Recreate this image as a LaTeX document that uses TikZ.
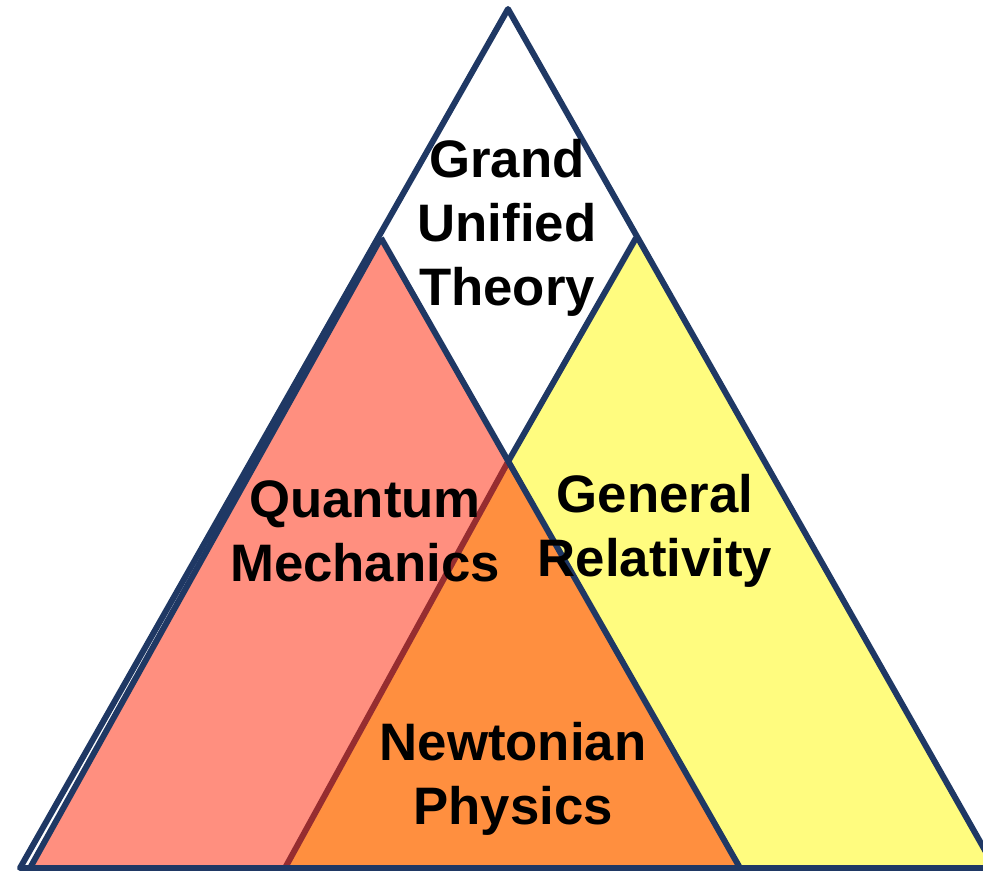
\documentclass[tikz,border=0pt]{standalone}
\usepackage{fontspec}
\setmainfont{Liberation Sans}
\usetikzlibrary{calc}
\definecolor{edgeblue}{RGB}{31,56,100}
\definecolor{qmred}{RGB}{255,143,127}
\definecolor{gryellow}{RGB}{255,252,127}
\definecolor{nworange}{RGB}{255,143,63}
\definecolor{seamred}{RGB}{150,45,48}
\tikzset{
  rim/.style  ={draw=edgeblue, line width=1.7pt, line join=round},
  seam/.style ={draw=seamred, line width=1.7pt},
  field/.style={font=\fontsize{15}{18.2}\selectfont\bfseries, align=center,
                inner sep=0pt, text=black}
}
\begin{document}
\begin{tikzpicture}[x=0.01cm, y=-0.01cm]
\useasboundingbox (0,0) rectangle (983,871);
% Corners of the triangles
\coordinate (top)  at (508,9);
\coordinate (bl)   at (20,868);
\coordinate (br)   at (995,868);
\coordinate (qtop) at (381,238);
\coordinate (qbl)  at (30,868);
\coordinate (qbr)  at (740,868);
\coordinate (gtop) at (636,238);
\coordinate (gbl)  at (285,868);
\coordinate (meet) at (509,460);

% Fields
\fill[qmred]    (qtop) -- (qbl) -- (qbr) -- cycle;
\fill[gryellow] (gtop) -- (gbl) -- (br) -- cycle;
\fill[nworange] (meet) -- (gbl) -- (qbr) -- cycle;

% Outlines
\draw[seam] (meet) -- (gbl);
\draw[rim]  (gtop) -- (meet);
\draw[rim]  (qtop) -- (qbl);
\draw[rim]  (qtop) -- (qbr);
\draw[rim]  (bl) -- (top) -- (br) -- cycle;

% Labels
\node[field] (gut) at (507,228) {Grand\\Unified\\Theory};
\node[field] (qm)  at (365,531) {Quantum\\Mechanics};
\node[field] (gr)  at (655,531) {General\\Relativity};
\node[field] (np)  at (513,779) {Newtonian\\Physics};
\end{tikzpicture}
\end{document}
